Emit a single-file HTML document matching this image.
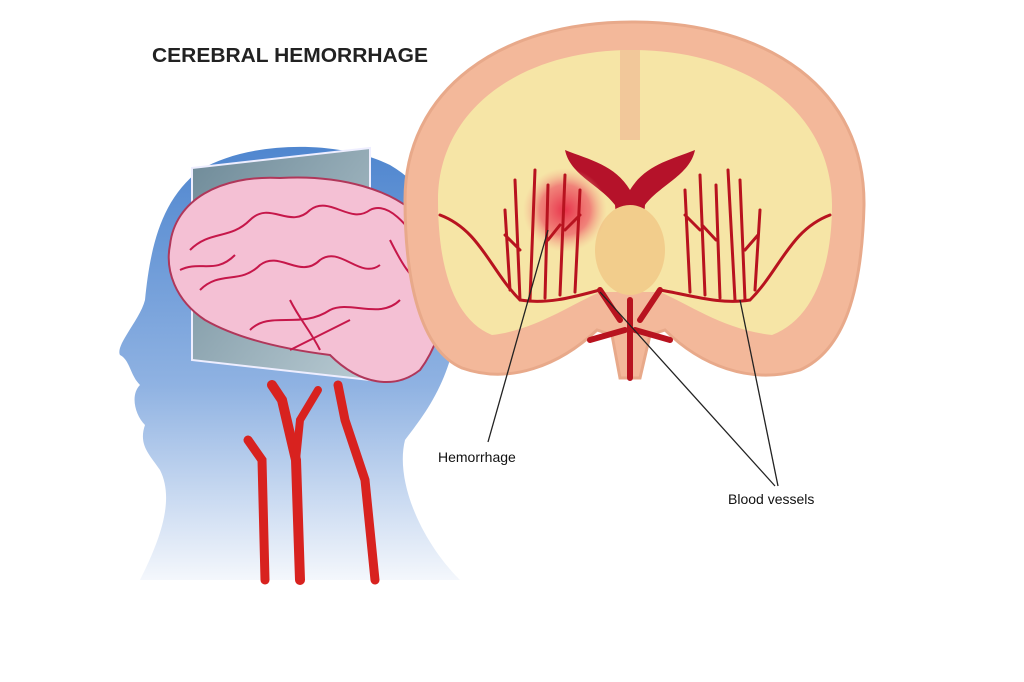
<!DOCTYPE html>
<html><head><meta charset="utf-8"><style>
html,body{margin:0;padding:0;background:#fff;width:1024px;height:682px;overflow:hidden}
svg{display:block}
text{font-family:"Liberation Sans",sans-serif}
</style></head><body>
<svg width="1024" height="682" viewBox="0 0 1024 682" xmlns="http://www.w3.org/2000/svg">
<defs>
<linearGradient id="head" x1="0" y1="0" x2="0" y2="1">
<stop offset="0" stop-color="#4f86cf"/><stop offset="0.55" stop-color="#8fb2e2"/><stop offset="1" stop-color="#f4f7fc"/>
</linearGradient>
<radialGradient id="hem" cx="0.5" cy="0.5" r="0.5">
<stop offset="0" stop-color="#e8324a"/><stop offset="0.6" stop-color="#ef6a6e" stop-opacity="0.8"/><stop offset="1" stop-color="#f5b090" stop-opacity="0"/>
</radialGradient>
<linearGradient id="pane" x1="0" y1="0" x2="1" y2="1">
<stop offset="0" stop-color="#6e8a98"/><stop offset="1" stop-color="#b9cbd3"/>
</linearGradient>
</defs>
<rect width="1024" height="682" fill="#fff"/>
<text x="152" y="62" font-size="20" fill="#222" textLength="276" lengthAdjust="spacingAndGlyphs" font-weight="bold">CEREBRAL HEMORRHAGE</text>
<!-- head -->
<path d="M140,580 C160,540 175,500 160,470 C150,455 138,445 145,425 C135,415 130,395 140,385 C130,375 130,360 120,355 C115,345 140,320 145,300 C150,250 160,200 200,170 C250,140 340,140 390,165 C450,200 470,280 455,340 C445,390 420,420 405,440 C395,480 420,540 460,580 Z" fill="url(#head)"/>
<g stroke="#d8221f" fill="none" stroke-linecap="round">
<path d="M265,580 L262,460 L248,440" stroke-width="9"/>
<path d="M300,580 L296,460 L282,400 L272,385" stroke-width="10"/>
<path d="M296,460 L300,420 L318,390" stroke-width="8"/>
<path d="M375,580 L365,480 L345,420 L338,385" stroke-width="9"/>
</g>
<polygon points="192,168 370,148 370,380 192,360" fill="url(#pane)" stroke="#eef" stroke-width="2"/>
<path d="M170,245 C175,200 220,175 280,178 C330,175 400,185 430,230 C455,265 450,330 420,370 C395,390 360,385 330,355 C290,350 240,340 205,320 C175,300 165,270 170,245 Z" fill="#f4c0d4" stroke="#b0375a" stroke-width="2"/>
<g stroke="#c6174a" stroke-width="2" fill="none">
<path d="M190,250 C210,230 230,240 250,220 C270,200 290,230 310,210 C330,195 350,225 370,210 C390,200 410,230 425,250"/>
<path d="M200,290 C220,270 240,285 260,265 C280,250 300,280 320,260 C340,245 360,280 380,265"/>
<path d="M250,330 C270,310 300,330 330,310 C350,300 380,320 400,300"/>
<path d="M320,350 C310,330 300,320 290,300"/>
<path d="M290,350 L300,345 L330,330 L350,320"/>
<path d="M180,270 C200,260 215,275 235,255"/>
<path d="M390,240 C400,260 410,280 430,290"/>
</g>
<!-- coronal slice -->
<path d="M405,200 C405,90 500,22 632,22 C770,22 865,90 864,205 C862,290 845,350 800,370 C750,385 700,365 665,330 L650,335 L640,378 L620,378 L612,335 L597,330 C560,365 510,385 462,368 C420,350 405,280 405,200 Z" fill="#f3b89a" stroke="#e8a98a" stroke-width="3"/>
<path d="M438,200 C438,110 520,50 632,50 C745,50 832,110 832,205 C832,270 812,320 772,335 C725,330 690,305 660,292 L600,292 C570,305 535,330 492,335 C455,320 438,270 438,200 Z" fill="#f6e5a6"/>
<path d="M620,50 L620,140 L640,140 L640,50 Z" fill="#f2c89a"/>
<path d="M565,150 C590,160 615,165 630,190 C645,165 670,160 695,150 C690,175 660,185 645,205 L640,260 L620,260 L615,205 C600,185 570,175 565,150 Z" fill="#b5122a"/>
<ellipse cx="630" cy="250" rx="35" ry="45" fill="#f2cd8c"/>
<circle cx="565" cy="210" r="42" fill="url(#hem)"/>
<g stroke="#b8131f" fill="none" stroke-width="3" stroke-linecap="round">
<path d="M440,215 C480,230 490,270 520,300 C550,305 580,295 600,290"/>
<path d="M830,215 C790,230 780,270 750,300 C720,305 690,295 660,290"/>
<path d="M520,300 L515,180 M530,300 L535,170 M545,298 L548,185 M560,295 L565,175 M575,292 L580,190 M510,290 L505,210 M520,250 L505,235 M548,240 L560,225 M565,230 L580,215"/>
<path d="M745,300 L740,180 M735,300 L728,170 M720,298 L716,185 M705,295 L700,175 M690,292 L685,190 M755,290 L760,210 M745,250 L758,235 M716,240 L702,225 M700,230 L685,215"/>
<path d="M630,300 L630,378 M600,290 L620,320 M660,290 L640,320 M590,340 L625,330 M670,340 L635,330" stroke-width="6"/>
</g>
<g stroke="#222" stroke-width="1.3">
<line x1="548" y1="230" x2="488" y2="442"/>
<line x1="600" y1="292" x2="775" y2="486"/>
<line x1="740" y1="300" x2="778" y2="486"/>
</g>
<text x="438" y="462" font-size="14" fill="#111">Hemorrhage</text>
<text x="728" y="504" font-size="14" fill="#111">Blood vessels</text>
</svg>
</body></html>
